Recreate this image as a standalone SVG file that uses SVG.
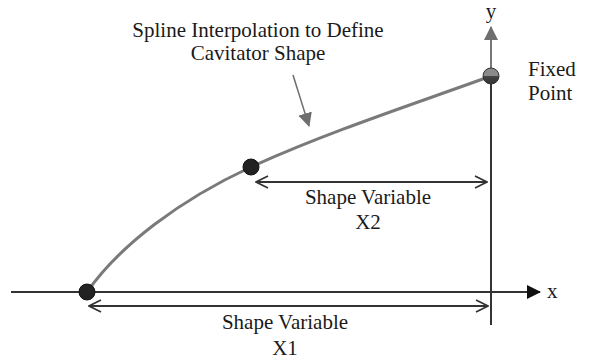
<svg xmlns="http://www.w3.org/2000/svg" width="589" height="361" viewBox="0 0 589 361">
<style>
text{font-family:'Liberation Serif','DejaVu Serif','Times New Roman',serif;font-size:21px;fill:#1a1a1a}
.axis{stroke:#333;stroke-width:2;fill:none}
.dim{stroke:#333;stroke-width:2;fill:none}
.curve{stroke:#7a7a7a;stroke-width:3;fill:none}
.pt{fill:#222;stroke:#111;stroke-width:1}
</style>
<defs>
<marker id="open" viewBox="0 0 14 14" refX="13" refY="7" markerWidth="14" markerHeight="14" markerUnits="userSpaceOnUse" orient="auto-start-reverse">
<path d="M1,1 L13,7 L1,13" fill="none" stroke="#333" stroke-width="1.8"/>
</marker>
<marker id="solid" viewBox="0 0 14 14" refX="13" refY="7" markerWidth="14" markerHeight="14" markerUnits="userSpaceOnUse" orient="auto">
<path d="M0,0 L14,7 L0,14 Z" fill="#111"/>
</marker>
<marker id="grey" viewBox="0 0 14 14" refX="13" refY="7" markerWidth="14" markerHeight="14" markerUnits="userSpaceOnUse" orient="auto">
<path d="M0,0 L14,7 L0,14 Z" fill="#6e6e6e"/>
</marker>
<linearGradient id="fp" x1="0" y1="0" x2="0" y2="1">
<stop offset="0" stop-color="#8a8a8a"/>
<stop offset="0.5" stop-color="#8a8a8a"/>
<stop offset="0.5" stop-color="#444"/>
<stop offset="1" stop-color="#333"/>
</linearGradient>
</defs>
<g id="connectors">
<line class="axis" x1="11" y1="292" x2="540" y2="292" marker-end="url(#solid)"/>
<line x1="491" y1="325" x2="491" y2="80" stroke="#333" stroke-width="2"/>
<line x1="491" y1="80" x2="491" y2="27" stroke="#777" stroke-width="2" marker-end="url(#grey)"/>
<path class="curve" d="M87,292 C120,245 180,200 251,167 C330,131 420,102 491,76"/>
<line x1="293" y1="75" x2="309" y2="126" stroke="#6e6e6e" stroke-width="1.5" marker-end="url(#grey)"/>
<line class="dim" x1="89" y1="306" x2="488" y2="306" marker-start="url(#open)" marker-end="url(#open)"/>
<line class="dim" x1="256" y1="182" x2="487" y2="182" marker-start="url(#open)" marker-end="url(#open)"/>
</g>
<g id="p1"><circle class="pt" cx="87" cy="292" r="8"/></g>
<g id="p2"><circle class="pt" cx="251" cy="167" r="8"/></g>
<g id="fixed"><circle cx="491" cy="76" r="8" fill="url(#fp)" stroke="#333" stroke-width="1"/>
<text x="528" y="76">Fixed</text><text x="528" y="100">Point</text></g>
<g id="labels">
<text x="258" y="37" text-anchor="middle">Spline Interpolation to Define</text>
<text x="258" y="60" text-anchor="middle">Cavitator Shape</text>
<text x="368" y="204" text-anchor="middle">Shape Variable</text>
<text x="368" y="229" text-anchor="middle">X2</text>
<text x="285" y="329" text-anchor="middle">Shape Variable</text>
<text x="285" y="355" text-anchor="middle">X1</text>
<text x="491" y="18" text-anchor="middle">y</text>
<text x="547" y="298">x</text>
</g>
</svg>
